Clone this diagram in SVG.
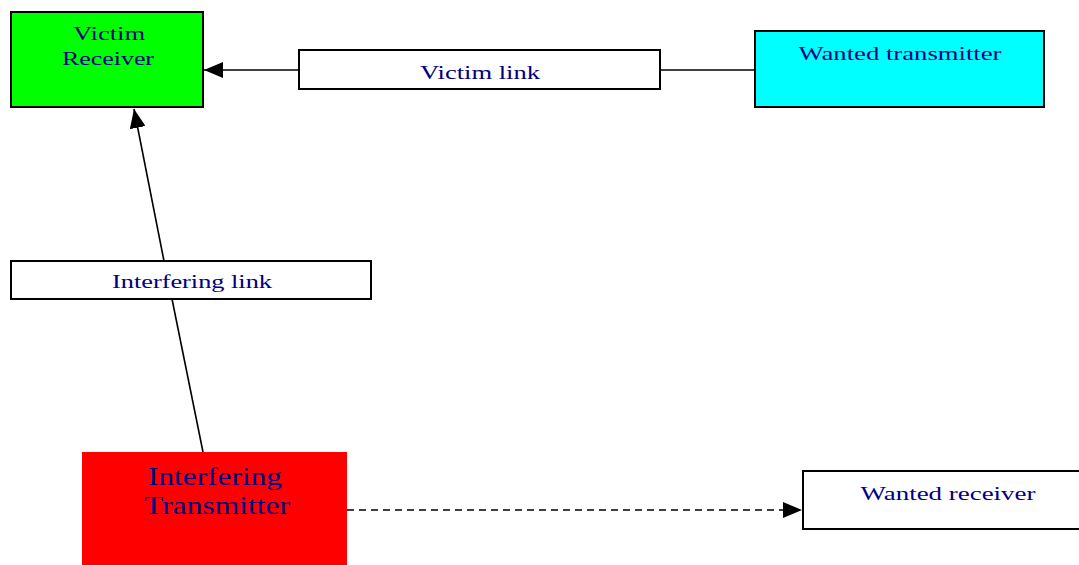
<svg xmlns="http://www.w3.org/2000/svg" width="1079" height="565" viewBox="0 0 1079 565">
<style>
.box{stroke:#000;stroke-width:2}
.t{font-family:"Liberation Serif",serif;fill:#000080;text-anchor:middle;font-size:19px}
.big{font-size:26px}
.ln{stroke:#000;stroke-width:1.6;fill:none}
</style>
<defs>
<marker id="ah" markerWidth="20" markerHeight="16" refX="19" refY="8" orient="auto" markerUnits="userSpaceOnUse">
<path d="M0,0 L19,8 L0,16 Z" fill="#000"/>
</marker>
</defs>
<rect width="1079" height="565" fill="#fff"/>
<g id="connectors">
<line class="ln" x1="299" y1="70" x2="204" y2="70" marker-end="url(#ah)"/>
<line class="ln" x1="660" y1="70" x2="755" y2="70"/>
<line class="ln" x1="203" y1="452" x2="172" y2="299"/>
<line class="ln" x1="164" y1="261" x2="134" y2="109" marker-end="url(#ah)"/>
<line class="ln" x1="347" y1="510" x2="802" y2="510" stroke-dasharray="7,5" marker-end="url(#ah)"/>
</g>
<g id="victim-receiver">
<rect class="box" x="11" y="12" width="192" height="95" fill="#00ff00"/>
<text class="t" x="109" y="40" textLength="72" lengthAdjust="spacingAndGlyphs">Victim</text>
<text class="t" x="108" y="65" textLength="92" lengthAdjust="spacingAndGlyphs">Receiver</text>
</g>
<g id="victim-link">
<rect class="box" x="299" y="50" width="361" height="39" fill="#fff"/>
<text class="t" x="480" y="79" textLength="120" lengthAdjust="spacingAndGlyphs">Victim link</text>
</g>
<g id="wanted-transmitter">
<rect class="box" x="755" y="31" width="289" height="76" fill="#00ffff"/>
<text class="t" x="900" y="60" textLength="203" lengthAdjust="spacingAndGlyphs">Wanted transmitter</text>
</g>
<g id="interfering-link">
<rect class="box" x="11" y="261" width="360" height="38" fill="#fff"/>
<text class="t" x="192" y="288" textLength="160" lengthAdjust="spacingAndGlyphs">Interfering link</text>
</g>
<g id="interfering-transmitter">
<rect x="82" y="452" width="265" height="113" fill="#ff0000"/>
<text class="t big" x="215" y="485" textLength="134" lengthAdjust="spacingAndGlyphs">Interfering</text>
<text class="t big" x="217" y="514" textLength="146" lengthAdjust="spacingAndGlyphs">Transmitter</text>
</g>
<g id="wanted-receiver">
<rect class="box" x="803" y="471" width="280" height="58" fill="#fff"/>
<text class="t" x="948" y="500" textLength="175" lengthAdjust="spacingAndGlyphs">Wanted receiver</text>
</g>
</svg>
